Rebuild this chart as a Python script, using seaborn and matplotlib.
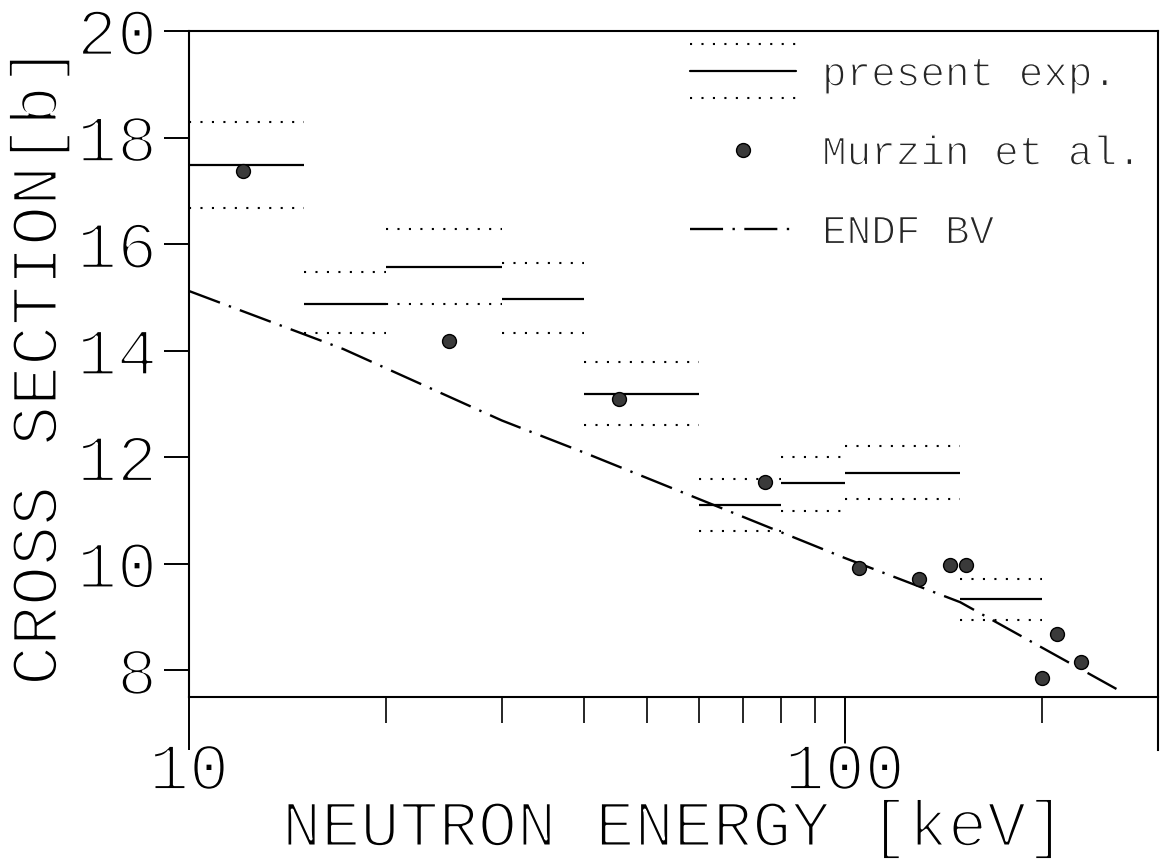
import matplotlib
matplotlib.use("Agg")
import matplotlib.pyplot as plt
import seaborn as sns
import numpy as np
import pandas as pd
from matplotlib.lines import Line2D
from matplotlib.legend_handler import HandlerBase
from matplotlib.ticker import LogLocator, NullFormatter
from matplotlib import patheffects as pe

# ---------------- data ----------------
bin_lo = [10, 15, 20, 30, 40, 60, 80, 100, 150]
bin_hi = [15, 20, 30, 40, 60, 80, 100, 150, 200]
present_sigma = [17.49, 14.88, 15.57, 14.97, 13.19, 11.11, 11.51, 11.71, 9.33]
present_upper = [18.29, 15.48, 16.28, 15.64, 13.79, 11.60, 12.00, 12.21, 9.72]
present_lower = [16.67, 14.34, 14.88, 14.34, 12.60, 10.61, 11.00, 11.22, 8.94]

murzin_E = [12.1, 24.9, 45.2, 75.6, 105, 130, 145, 153, 200, 211, 229]
murzin_sigma = [17.37, 14.19, 13.10, 11.53, 9.93, 9.72, 9.97, 9.97, 7.86, 8.69, 8.15]

endf_E = [10, 17.2, 30, 40, 100, 150, 266]
endf_sigma = [15.12, 14.03, 12.69, 12.09, 10.11, 9.28, 7.58]

x_ticks = [10, 100]
x_ticklabels = ["10", "100"]
y_ticks = [8, 10, 12, 14, 16, 18, 20]
y_ticklabels = ["8", "10", "12", "14", "16", "18", "20"]

legend_labels = ["present exp.", "Murzin et al.", "ENDF BV"]

# ---------------- style ----------------
sns.set_theme(style="white")
FONT = ["Liberation Mono", "DejaVu Sans Mono"]
plt.rcParams["font.family"] = FONT

DOTTED = (0, (1, 4.5))
DASHDOT = (0, (14, 4, 1, 4))
THIN_BIG = [pe.Stroke(linewidth=2.0, foreground="white")]
THIN_SMALL = [pe.Stroke(linewidth=1.0, foreground="white")]

fig = plt.figure(figsize=(11.6, 8.63), dpi=100)
ax = fig.add_axes([189 / 1160, 1 - 697 / 863, (1157.5 - 189) / 1160, (697 - 31) / 863])
ax.set_xscale("log")

# present experiment: bins with uncertainty band (dotted)
ax.hlines(present_sigma, bin_lo, bin_hi, colors="black", linewidth=1.6, zorder=2)
ax.hlines(present_upper, bin_lo, bin_hi, colors="black", linewidth=1.5,
          linestyles=[DOTTED], zorder=2)
ax.hlines(present_lower, bin_lo, bin_hi, colors="black", linewidth=1.5,
          linestyles=[DOTTED], zorder=2)

# ENDF/B-V
endf_df = pd.DataFrame({"E": endf_E, "sigma": endf_sigma})
sns.lineplot(data=endf_df, x="E", y="sigma", ax=ax, color="black", linewidth=1.7,
             linestyle=DASHDOT, legend=False, zorder=2)

# Murzin et al.
murzin_df = pd.DataFrame({"E": murzin_E, "sigma": murzin_sigma})
sns.scatterplot(data=murzin_df, x="E", y="sigma", ax=ax, s=100, color="#3a3a3a",
                edgecolor="black", linewidth=1.0, legend=False, zorder=3)

# ---------------- axes ----------------
ax.set_xlim(10, 300)
ax.set_ylim(7.5, 20)
ax.set_xticks(x_ticks, labels=x_ticklabels)
ax.xaxis.set_minor_locator(LogLocator(base=10, subs=np.arange(2, 10), numticks=20))
ax.xaxis.set_minor_formatter(NullFormatter())
ax.set_yticks(y_ticks, labels=y_ticklabels)

for s in ax.spines.values():
    s.set_color("black")
    s.set_linewidth(1.5)
ax.spines["right"].set_bounds(6.5, 20)

ax.tick_params(axis="x", which="major", direction="out", length=38, width=1.4,
               pad=-6, labelsize=48, colors="black", bottom=True)
ax.tick_params(axis="x", which="minor", direction="out", length=19, width=1.4,
               bottom=True)
ax.tick_params(axis="y", which="major", direction="out", length=18, width=1.4,
               pad=5, labelsize=48, colors="black", left=True)
ax.tick_params(axis="y", which="minor", left=False)

ax.set_xlabel("NEUTRON ENERGY [keV]", fontsize=47, color="black")
ax.set_ylabel("CROSS SECTION[b]", fontsize=48, color="black")
ax.xaxis.set_label_coords(0.5, -0.153)
ax.yaxis.set_label_coords(-0.122, 0.497)

for t in ax.get_xticklabels() + ax.get_yticklabels() + [ax.xaxis.label, ax.yaxis.label]:
    t.set_path_effects(THIN_BIG)


# ---------------- legend ----------------
class TripleHandler(HandlerBase):
    def create_artists(self, legend, orig_handle, xdescent, ydescent, width,
                       height, fontsize, trans):
        y0 = height / 2 - ydescent
        off = 0.66 * fontsize
        x0, x1 = -xdescent, width - xdescent
        arts = []
        for dy, ls, lw in [(0, "-", 1.6), (off, DOTTED, 1.5), (-off, DOTTED, 1.5)]:
            ln = Line2D([x0, x1], [y0 + dy, y0 + dy], color="black",
                        linewidth=lw, linestyle=ls, transform=trans)
            arts.append(ln)
        return arts


h_present = Line2D([], [], color="black")
h_murzin = Line2D([], [], linestyle="none", marker="o", markersize=10,
                  markerfacecolor="#3a3a3a", markeredgecolor="black")
h_endf = Line2D([], [], color="black", linewidth=1.7, linestyle=DASHDOT)

leg = ax.legend([h_present, h_murzin, h_endf], legend_labels,
                handler_map={h_present: TripleHandler()},
                loc="upper left", bbox_to_anchor=(0.517, 0.963),
                frameon=False, fontsize=29.5, handlelength=2.6,
                handletextpad=0.63, labelspacing=1.0, borderpad=0,
                borderaxespad=0)
for t in leg.get_texts():
    t.set_path_effects(THIN_SMALL)

fig.savefig("out.png", dpi=100)
